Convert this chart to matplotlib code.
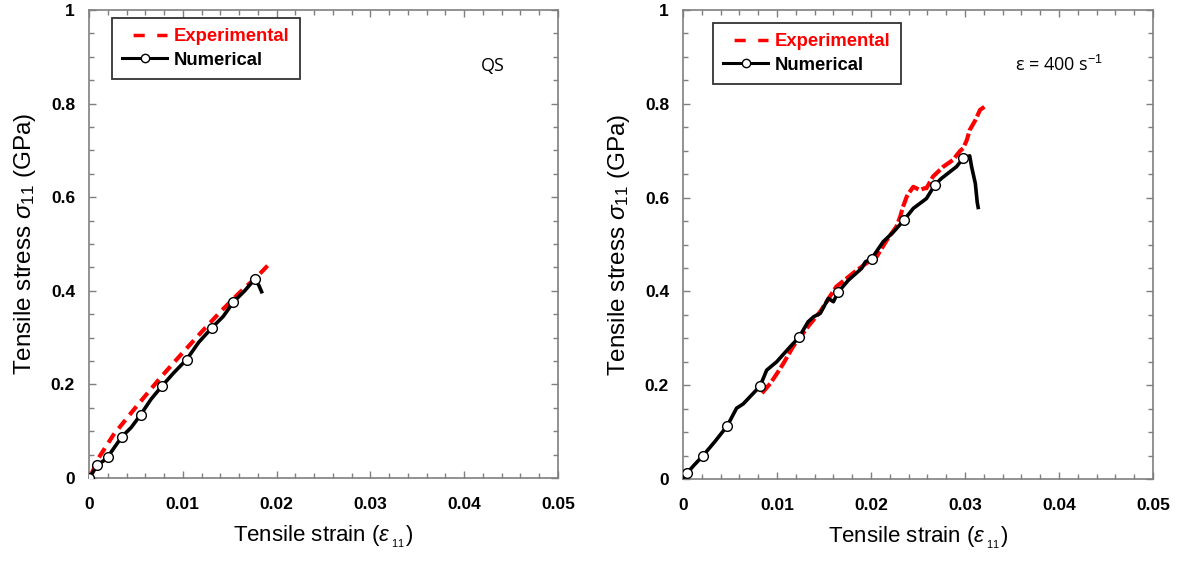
import matplotlib
matplotlib.use("Agg")
import matplotlib.pyplot as plt
from matplotlib.ticker import MultipleLocator, FixedLocator
from matplotlib.lines import Line2D

plt.rcParams['font.family'] = ['Liberation Sans', 'DejaVu Sans']
plt.rcParams['mathtext.fontset'] = 'custom'
plt.rcParams['mathtext.rm'] = 'Liberation Sans'
plt.rcParams['mathtext.it'] = 'Liberation Sans:italic'

# ---------------- data ----------------
# Left panel (QS)
qs_exp_strain = [0.0003, 0.001, 0.0026, 0.0051, 0.0076, 0.0100, 0.0120, 0.0140, 0.0160, 0.0180, 0.0193]
qs_exp_stress = [0.010, 0.042, 0.092, 0.154, 0.214, 0.268, 0.312, 0.355, 0.395, 0.432, 0.459]

qs_num_strain = [0.0, 0.0005, 0.00088, 0.0015, 0.0020, 0.0028, 0.0035, 0.0045, 0.0055, 0.0066,
                 0.0078, 0.0090, 0.0104, 0.0117, 0.0131, 0.0143, 0.0154, 0.0166, 0.01767, 0.0181, 0.0184]
qs_num_stress = [0.0, 0.015, 0.028, 0.036, 0.045, 0.068, 0.088, 0.108, 0.135, 0.168,
                 0.197, 0.224, 0.253, 0.290, 0.321, 0.345, 0.376, 0.400, 0.425, 0.412, 0.398]
qs_num_markers = [0, 2, 4, 6, 8, 10, 12, 14, 16, 18]

# Right panel (400 /s)
hr_exp_strain = [0.0084, 0.0093, 0.0100, 0.0107, 0.0117, 0.0133, 0.0146, 0.0163, 0.0181, 0.0195,
                 0.0206, 0.0217, 0.0227, 0.0231, 0.0234, 0.0238, 0.0240, 0.0245, 0.0252, 0.0257,
                 0.0259, 0.0266, 0.0277, 0.0287, 0.0295, 0.0298, 0.0302, 0.0305, 0.0311, 0.0316, 0.0323]
hr_exp_stress = [0.183, 0.204, 0.225, 0.247, 0.282, 0.325, 0.357, 0.410, 0.439, 0.460,
                 0.474, 0.510, 0.538, 0.559, 0.580, 0.602, 0.609, 0.623, 0.616, 0.620,
                 0.620, 0.645, 0.666, 0.680, 0.700, 0.705, 0.723, 0.744, 0.765, 0.787, 0.797]

hr_num_strain = [0.0, 0.0004, 0.0012, 0.0021, 0.0034, 0.0047, 0.0057, 0.0064, 0.0073, 0.0082,
                 0.0089, 0.00997, 0.0114, 0.01234, 0.0133, 0.0139, 0.0146, 0.01546, 0.0160, 0.01652,
                 0.0176, 0.0190, 0.0194, 0.02007, 0.0213, 0.0224, 0.02351, 0.0245, 0.0259, 0.02681,
                 0.0275, 0.0291, 0.02982, 0.0305, 0.0307, 0.0311, 0.0313, 0.0314]
hr_num_stress = [0.0, 0.012, 0.030, 0.049, 0.080, 0.113, 0.151, 0.160, 0.179, 0.198,
                 0.232, 0.250, 0.282, 0.302, 0.335, 0.346, 0.353, 0.385, 0.378, 0.399,
                 0.424, 0.449, 0.463, 0.470, 0.506, 0.527, 0.552, 0.577, 0.598, 0.6275,
                 0.641, 0.666, 0.684, 0.689, 0.666, 0.630, 0.590, 0.579]
hr_num_markers = [1, 3, 5, 9, 13, 19, 23, 26, 29, 32]

x_ticks = [0, 0.01, 0.02, 0.03, 0.04, 0.05]
x_tick_labels = ['0', '0.01', '0.02', '0.03', '0.04', '0.05']
y_ticks = [0, 0.2, 0.4, 0.6, 0.8, 1.0]
y_tick_labels = ['0', '0.2', '0.4', '0.6', '0.8', '1']

# ---------------- figure ----------------
fig = plt.figure(figsize=(11.83, 5.63), dpi=100)
ax1 = fig.add_axes([89/1183, 1-478/563, 469/1183, 468/563])
ax2 = fig.add_axes([683/1183, 1-479/563, 470/1183, 469/563])

spine_col = '#7f7f7f'


def style(ax):
    ax.set_xlim(0, 0.05)
    ax.set_ylim(0, 1)
    ax.xaxis.set_major_locator(FixedLocator(x_ticks))
    ax.set_xticklabels(x_tick_labels)
    ax.yaxis.set_major_locator(FixedLocator(y_ticks))
    ax.set_yticklabels(y_tick_labels)
    ax.xaxis.set_minor_locator(MultipleLocator(0.002))
    ax.yaxis.set_minor_locator(MultipleLocator(0.05))
    ax.tick_params(which='both', direction='in', top=True, right=True, color=spine_col)
    ax.tick_params(which='major', length=5, width=1)
    ax.tick_params(which='minor', length=3.5, width=1)
    ax.tick_params(axis='x', which='major', pad=14, labelsize=12.5)
    ax.tick_params(axis='y', which='major', pad=10, labelsize=12.5)
    for lab in ax.get_xticklabels() + ax.get_yticklabels():
        lab.set_fontweight('bold')
    for sp in ax.spines.values():
        sp.set_color(spine_col)
        sp.set_linewidth(1.2)
    ax.set_xlabel(r'Tensile strain ($\varepsilon_{_{\ 11}}$)', fontsize=16, labelpad=8)
    ax.set_ylabel(r'Tensile stress $\sigma_{\mathregular{11}}$ (GPa)', fontsize=17.5, labelpad=9)


def legend(ax, x0, y0):
    h = [Line2D([], [], color='red', lw=2.5, ls=(3.6, (3.2, 3.6))),
         Line2D([], [], color='black', lw=2.2, marker='o', mfc='white', mec='black', ms=6)]
    leg = ax.legend(h, ['Experimental', 'Numerical'], loc='upper left',
                    bbox_to_anchor=(x0, y0), borderaxespad=0, frameon=True, fancybox=False,
                    edgecolor='black', prop={'weight': 'bold', 'size': 13.3},
                    handlelength=2.45, handletextpad=0.35, borderpad=0.55, labelspacing=0.35)
    leg.get_frame().set_linewidth(1.3)
    leg.get_texts()[0].set_color('red')
    return leg


# Left
ax1.plot(qs_exp_strain, qs_exp_stress, color='red', lw=3, ls=(0, (2.6, 1.6)), zorder=2)
ax1.plot(qs_num_strain, qs_num_stress, color='black', lw=2.6, marker='o', mfc='white',
         mec='black', ms=7, mew=1, markevery=qs_num_markers, zorder=3)
style(ax1)
legend(ax1, 0.049, 0.983)
ax1.text(0.86, 0.88, 'QS', transform=ax1.transAxes, fontsize=13,
         family=['Open Sans', 'DejaVu Sans'], ha='center', va='center')

# Right
ax2.plot(hr_exp_strain, hr_exp_stress, color='red', lw=3, ls=(0, (3, 0.8)), zorder=2)
ax2.plot(hr_num_strain, hr_num_stress, color='black', lw=2.6, marker='o', mfc='white',
         mec='black', ms=7, mew=1, markevery=hr_num_markers, zorder=3)
style(ax2)
legend(ax2, 0.064, 0.972)
ax2.text(0.80, 0.882, r'ε = 400 s$^{-1}$', transform=ax2.transAxes, fontsize=13,
         family=['Open Sans', 'DejaVu Sans'], ha='center', va='center')

fig.savefig('out.png', dpi=100)
